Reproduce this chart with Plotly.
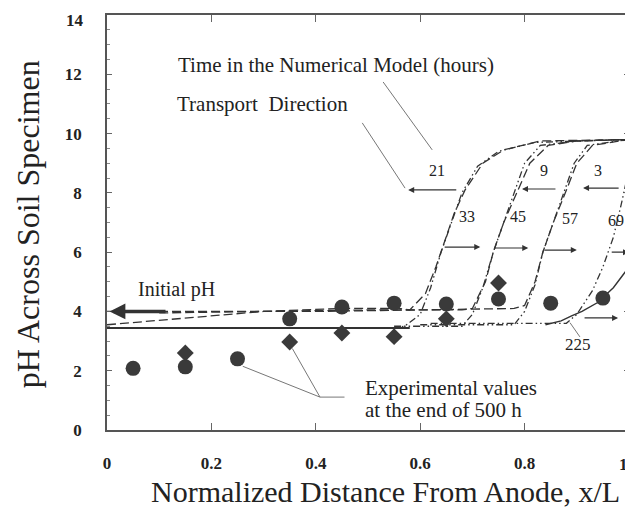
import plotly.graph_objects as go

# ---------------- data ----------------
exp_circle_x = [0.05, 0.15, 0.25, 0.35, 0.45, 0.55, 0.65, 0.75, 0.85, 0.95]
exp_circle_y = [2.08, 2.13, 2.40, 3.75, 4.15, 4.28, 4.25, 4.42, 4.28, 4.45]
exp_diamond_x = [0.15, 0.35, 0.45, 0.55, 0.65, 0.75]
exp_diamond_y = [2.60, 2.97, 3.27, 3.15, 3.75, 4.96]

initial_x = [0.0, 0.58]
initial_y = [3.44, 3.44]

# left-moving fronts (dashed)
t3_x = [0.0, 0.2, 0.4, 0.6, 0.78, 0.80, 0.82, 0.835, 0.855, 0.878, 0.90, 0.93, 1.0]
t3_y = [4.0, 4.0, 4.0, 4.05, 4.1, 4.2, 5.0, 6.0, 7.0, 8.0, 9.0, 9.6, 9.8]
t9_x = [0.0, 0.1, 0.2, 0.3, 0.5, 0.68, 0.70, 0.725, 0.74, 0.76, 0.785, 0.81, 0.845, 0.9, 1.0]
t9_y = [3.55, 3.7, 3.85, 4.0, 4.05, 4.05, 4.1, 5.0, 6.0, 7.0, 8.0, 9.0, 9.6, 9.75, 9.8]
t21_x = [0.1, 0.3, 0.45, 0.56, 0.58, 0.61, 0.63, 0.645, 0.665, 0.686, 0.72, 0.76, 0.83, 1.0]
t21_y = [3.95, 4.0, 4.1, 4.1, 4.05, 4.6, 5.5, 6.3, 7.3, 8.1, 9.0, 9.45, 9.75, 9.8]

# right-moving fronts (dash-dot-dot)
t33_x = [0.0, 0.3, 0.55, 0.57, 0.60, 0.62, 0.64, 0.66, 0.68, 0.71, 0.75, 0.82, 1.0]
t33_y = [3.45, 3.45, 3.45, 3.5, 3.9, 4.8, 6.0, 7.0, 8.0, 8.9, 9.4, 9.7, 9.8]
t45_x = [0.55, 0.68, 0.70, 0.72, 0.74, 0.76, 0.78, 0.80, 0.83, 0.9, 1.0]
t45_y = [3.5, 3.5, 3.9, 4.8, 6.0, 7.0, 8.0, 9.0, 9.6, 9.75, 9.8]
t57_x = [0.60, 0.78, 0.80, 0.82, 0.835, 0.855, 0.875, 0.895, 0.92, 1.0]
t57_y = [3.55, 3.55, 4.0, 4.9, 6.0, 7.0, 8.0, 9.0, 9.6, 9.8]
t69_x = [0.62, 0.80, 0.88, 0.90, 0.93, 0.95, 0.97, 0.985, 1.0]
t69_y = [3.6, 3.6, 3.6, 3.9, 4.7, 5.5, 6.5, 7.6, 8.8]
t225_x = [0.84, 0.87, 0.89, 0.91, 0.94, 0.97, 1.0]
t225_y = [3.55, 3.68, 3.85, 4.0, 4.3, 4.8, 5.5]

x_tick_vals = [0, 0.2, 0.4, 0.6, 0.8, 1.0]
x_tick_text = ["0", "0.2", "0.4", "0.6", "0.8", ""]
y_tick_vals = [0, 2, 4, 6, 8, 10, 12, 14]
y_tick_text = ["0", "2", "4", "6", "8", "10", "12", ""]

INK = "#333333"
SERIF = "Liberation Serif, Times New Roman, serif"
DASHED = "9px,4px"
DDOT = "7px,3px,1.5px,3px,1.5px,3px"

fig = go.Figure()

def line(x, y, dash, width=1.3):
    fig.add_trace(go.Scatter(x=x, y=y, mode="lines",
                             line=dict(color=INK, width=width, dash=dash),
                             hoverinfo="skip", showlegend=False))

line(initial_x, initial_y, "solid", 2.0)
line(t3_x, t3_y, DASHED)
line(t9_x, t9_y, DASHED)
line(t21_x, t21_y, DASHED)
line(t33_x, t33_y, DDOT)
line(t45_x, t45_y, DDOT)
line(t57_x, t57_y, DDOT)
line(t69_x, t69_y, DDOT)
line(t225_x, t225_y, "solid", 1.4)

fig.add_trace(go.Scatter(x=exp_circle_x, y=exp_circle_y, mode="markers",
                         marker=dict(symbol="circle", size=15, color="#3a3a3a"),
                         showlegend=False))
fig.add_trace(go.Scatter(x=exp_diamond_x, y=exp_diamond_y, mode="markers",
                         marker=dict(symbol="diamond", size=13, color="#3a3a3a"),
                         showlegend=False))

ann = []
def text(x, y, s, size=21, xanchor="center"):
    ann.append(dict(x=x, y=y, xref="x", yref="y", text=s, showarrow=False,
                    xanchor=xanchor, font=dict(family=SERIF, size=size, color="#222")))

def arrow(x0, y0, x1, y1, width=1.2, size=1.0):
    ann.append(dict(x=x1, y=y1, ax=x0, ay=y0, xref="x", yref="y", axref="x", ayref="y",
                    text="", showarrow=True, arrowhead=2, arrowsize=size,
                    arrowwidth=width, arrowcolor=INK))

text(0.133, 12.3, "Time in the Numerical Model (hours)", 21, "left")
text(0.13, 11.0, "Transport&nbsp;&nbsp;Direction", 21, "left")
text(0.055, 4.75, "Initial pH", 20, "left")
text(0.49, 1.42, "Experimental values", 21, "left")
text(0.49, 0.67, "at the end of 500 h", 21, "left")

for lx, ly, s, fs in [(0.632, 8.77, "21", 16), (0.838, 8.77, "9", 16), (0.94, 8.77, "3", 16),
                      (0.69, 7.19, "33", 16), (0.787, 7.19, "45", 16), (0.887, 7.15, "57", 16),
                      (0.975, 7.08, "69", 16), (0.902, 2.87, "225", 17)]:
    text(lx, ly, s, fs)

arrow(0.672, 8.1, 0.577, 8.1)
arrow(0.862, 8.13, 0.795, 8.13)
arrow(0.983, 8.16, 0.912, 8.16)
arrow(0.644, 6.17, 0.715, 6.17)
arrow(0.74, 6.14, 0.807, 6.14)
arrow(0.835, 6.07, 0.90, 6.07)
arrow(0.964, 6.0, 1.0, 6.0)
arrow(0.912, 3.78, 0.979, 3.78)
arrow(0.115, 4.0, 0.005, 4.0, width=3.5, size=0.9)

# axis titles and the edge tick labels, placed in paper coordinates
ann.append(dict(x=0.533, y=-0.148, xref="paper", yref="paper", showarrow=False,
                text="Normalized Distance From Anode, x/L", xanchor="center", yanchor="middle",
                font=dict(family=SERIF, size=30, color="#222")))
ann.append(dict(x=-0.151, y=0.496, xref="paper", yref="paper", showarrow=False,
                text="pH Across Soil Specimen", textangle=-90, xanchor="center", yanchor="middle",
                font=dict(family=SERIF, size=32, color="#222")))
ann.append(dict(x=0.99, y=-0.084, xref="paper", yref="paper", showarrow=False,
                text="1", xanchor="center", yanchor="middle",
                font=dict(family=SERIF, size=17, color="#222", weight="bold")))
ann.append(dict(x=0, y=1, xref="paper", yref="paper", showarrow=False,
                text="14", xanchor="right", yanchor="top", xshift=-21, yshift=6,
                font=dict(family=SERIF, size=17, color="#222", weight="bold")))

shapes = []
def seg(x0, y0, x1, y1):
    shapes.append(dict(type="line", xref="x", yref="y", x0=x0, y0=y0, x1=x1, y1=y1,
                       line=dict(color="#777", width=1)))

seg(0.529, 11.74, 0.623, 9.45)
seg(0.489, 10.36, 0.571, 8.16)
seg(0.26, 2.15, 0.408, 1.11)
seg(0.355, 2.75, 0.408, 1.11)
seg(0.408, 1.11, 0.455, 1.11)
seg(0.887, 3.62, 0.906, 3.14)

# the page body adds an 8px offset, so the figure is 8px smaller than the window
fig.update_layout(
    width=625, height=499,
    margin=dict(l=99, r=4, t=7, b=77, autoexpand=False),
    paper_bgcolor="white", plot_bgcolor="white",
    annotations=ann, shapes=shapes, showlegend=False,
    xaxis=dict(range=[0, 1], tickvals=x_tick_vals, ticktext=x_tick_text,
               ticks="inside", ticklen=7, tickcolor="#666", tickwidth=1,
               showline=True, linecolor="#555", linewidth=1.5, mirror="ticks",
               showgrid=False, zeroline=False, ticklabelstandoff=17,
               ticklabeloverflow="allow",
               tickfont=dict(family=SERIF, size=17, color="#222", weight="bold")),
    yaxis=dict(range=[0, 14], tickvals=y_tick_vals, ticktext=y_tick_text,
               ticks="inside", ticklen=5, tickcolor="#666", tickwidth=1,
               minor=dict(dtick=0.5, ticks="inside", ticklen=3, tickcolor="#888"),
               showline=True, linecolor="#555", linewidth=1.5, mirror="ticks",
               showgrid=False, zeroline=False, ticklabelstandoff=20,
               ticklabeloverflow="allow",
               tickfont=dict(family=SERIF, size=17, color="#222", weight="bold")),
)

fig.write_html("out.html")
